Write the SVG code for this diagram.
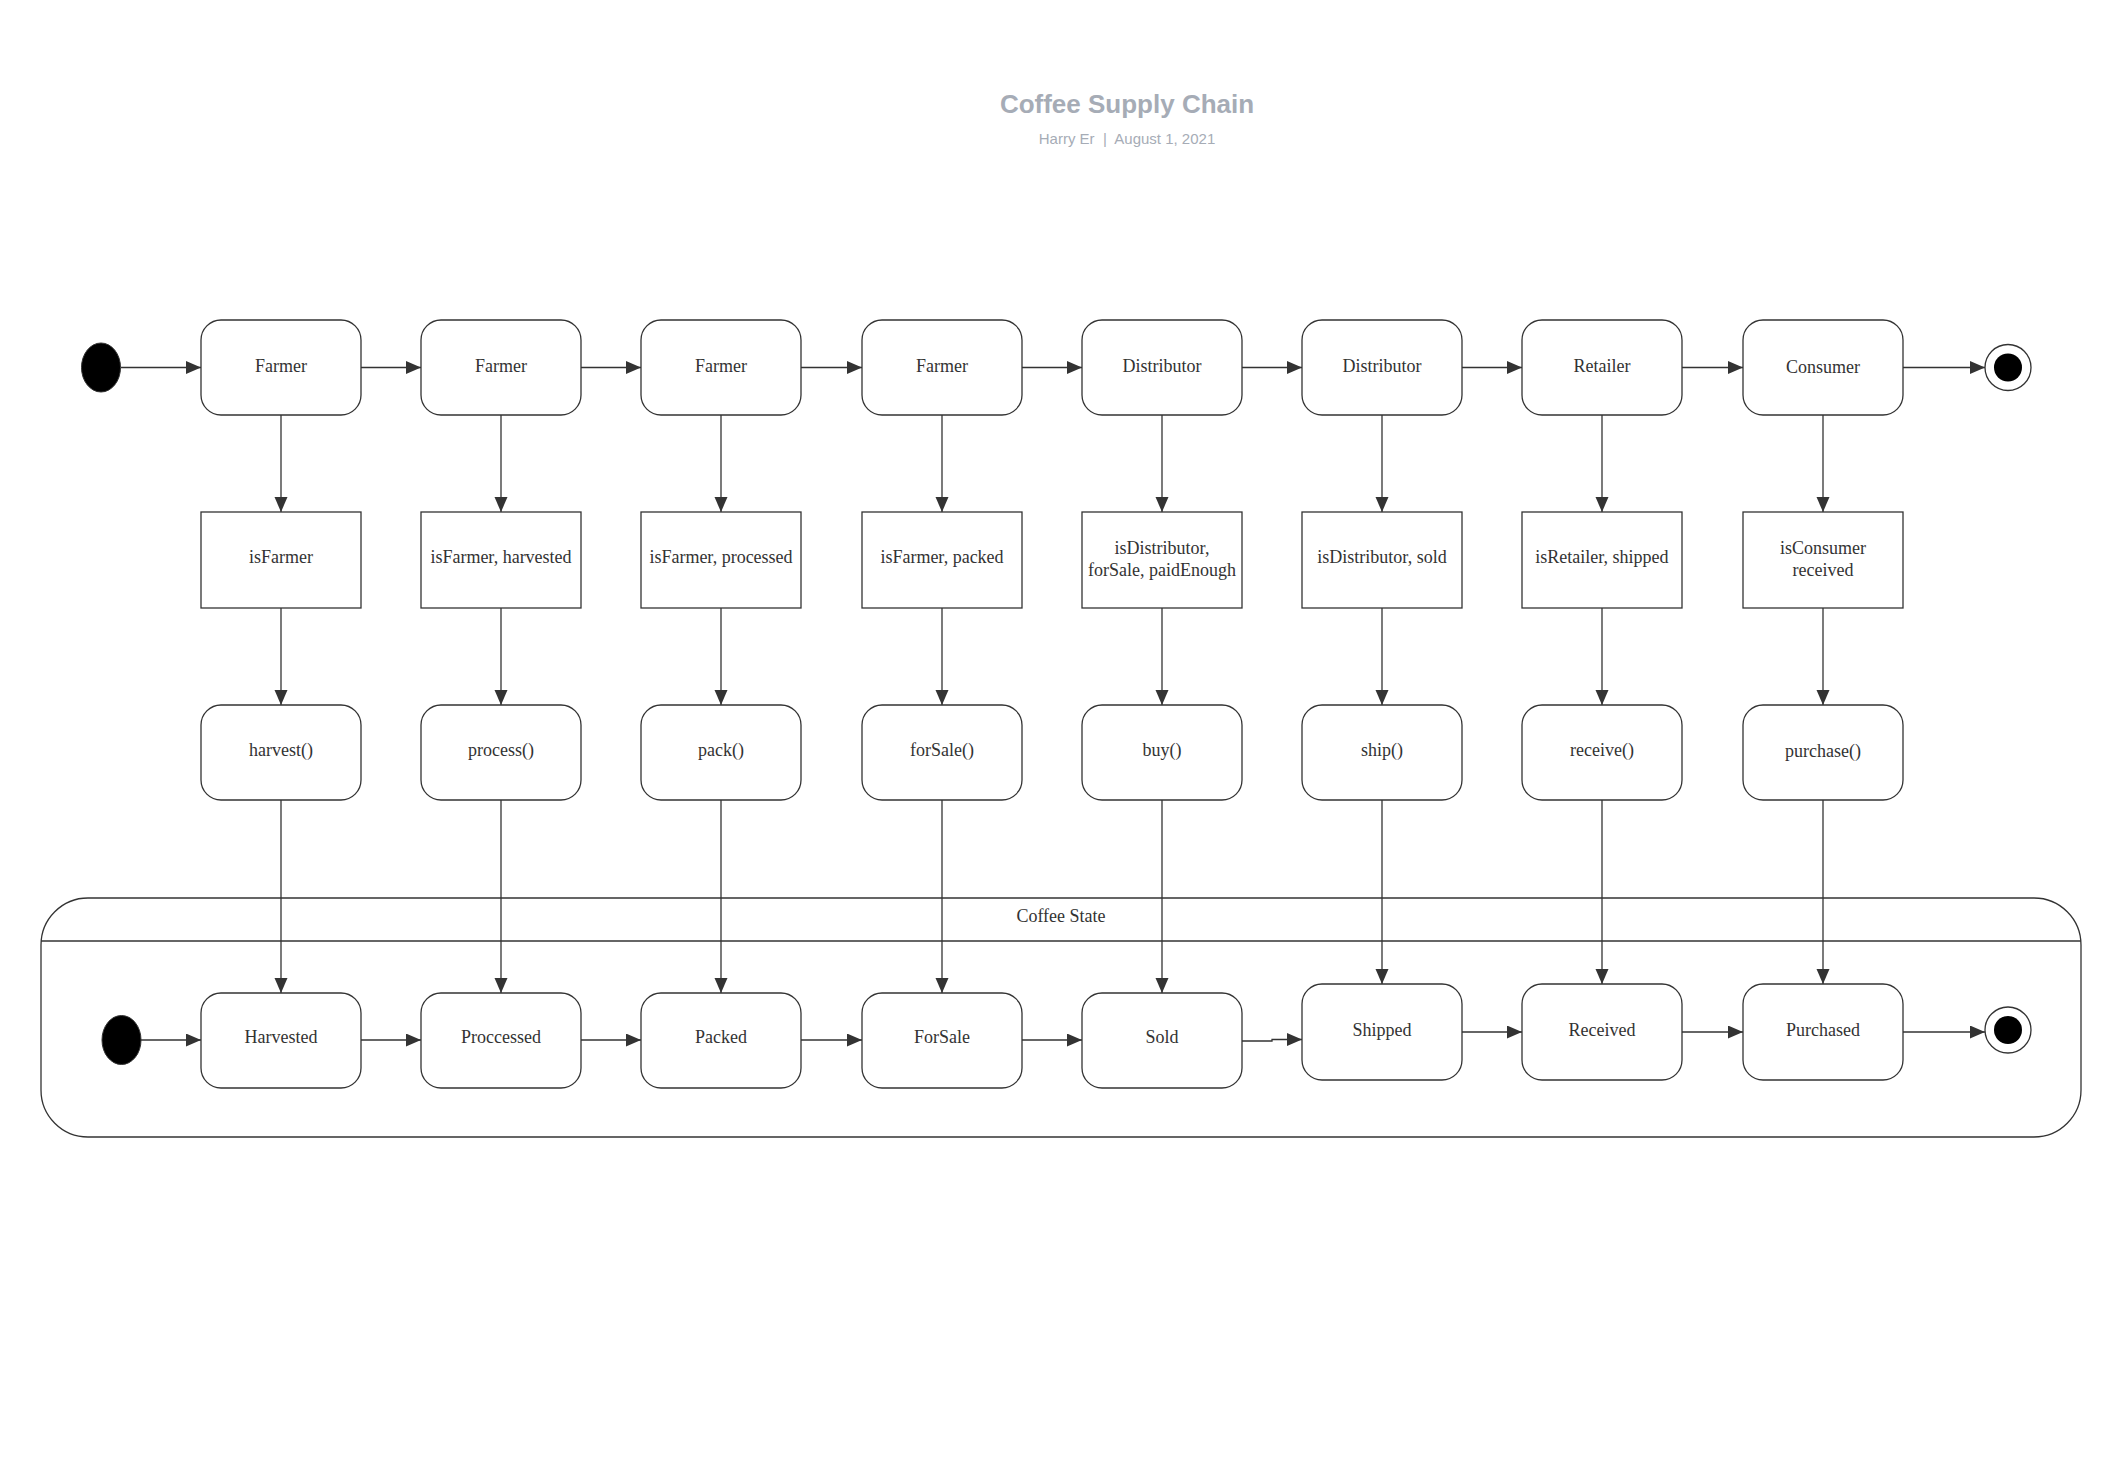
<svg xmlns="http://www.w3.org/2000/svg" width="2126" height="1466" viewBox="0 0 2126 1466">
<style>
.st{fill:#fff;stroke:#333;stroke-width:1.3}
.t{font-family:"Liberation Serif","Times New Roman",serif;font-size:18px;fill:#333;text-anchor:middle;dominant-baseline:central}
.c{fill:none;stroke:#333;stroke-width:1.3}
.ttl{font-family:"Liberation Sans",Arial,sans-serif;text-anchor:middle;fill:#a6acb6}
</style>
<defs>
<marker id="ah" markerUnits="userSpaceOnUse" markerWidth="16" markerHeight="14" refX="15" refY="6.5" orient="auto">
<path d="M0,0 L15,6.5 L0,13 z" fill="#333"/>
</marker>
</defs>
<rect width="2126" height="1466" fill="#fff"/>
<g id="title">
<text class="ttl" x="1127" y="113" font-size="26" font-weight="bold">Coffee Supply Chain</text>
<text class="ttl" x="1127" y="143.5" font-size="15">Harry Er &#160;|&#160; August 1, 2021</text>
</g>
<g id="coffee-state">
<rect class="st" x="41" y="898" width="2040" height="239" rx="47"/>
<line class="c" x1="41" y1="941" x2="2081" y2="941"/>
<text class="t" x="1061" y="916">Coffee State</text>
</g>
<g id="connectors">
<!-- top row -->
<line class="c" x1="121" y1="367.5" x2="201" y2="367.5" marker-end="url(#ah)"/>
<line class="c" x1="361" y1="367.5" x2="421" y2="367.5" marker-end="url(#ah)"/>
<line class="c" x1="581" y1="367.5" x2="641" y2="367.5" marker-end="url(#ah)"/>
<line class="c" x1="801" y1="367.5" x2="862" y2="367.5" marker-end="url(#ah)"/>
<line class="c" x1="1022" y1="367.5" x2="1082" y2="367.5" marker-end="url(#ah)"/>
<line class="c" x1="1242" y1="367.5" x2="1302" y2="367.5" marker-end="url(#ah)"/>
<line class="c" x1="1462" y1="367.5" x2="1522" y2="367.5" marker-end="url(#ah)"/>
<line class="c" x1="1682" y1="367.5" x2="1743" y2="367.5" marker-end="url(#ah)"/>
<line class="c" x1="1903" y1="367.5" x2="1985" y2="367.5" marker-end="url(#ah)"/>
<!-- columns -->
<line class="c" x1="281" y1="415" x2="281" y2="512" marker-end="url(#ah)"/>
<line class="c" x1="281" y1="608" x2="281" y2="705" marker-end="url(#ah)"/>
<line class="c" x1="281" y1="800" x2="281" y2="993" marker-end="url(#ah)"/>
<line class="c" x1="501" y1="415" x2="501" y2="512" marker-end="url(#ah)"/>
<line class="c" x1="501" y1="608" x2="501" y2="705" marker-end="url(#ah)"/>
<line class="c" x1="501" y1="800" x2="501" y2="993" marker-end="url(#ah)"/>
<line class="c" x1="721" y1="415" x2="721" y2="512" marker-end="url(#ah)"/>
<line class="c" x1="721" y1="608" x2="721" y2="705" marker-end="url(#ah)"/>
<line class="c" x1="721" y1="800" x2="721" y2="993" marker-end="url(#ah)"/>
<line class="c" x1="942" y1="415" x2="942" y2="512" marker-end="url(#ah)"/>
<line class="c" x1="942" y1="608" x2="942" y2="705" marker-end="url(#ah)"/>
<line class="c" x1="942" y1="800" x2="942" y2="993" marker-end="url(#ah)"/>
<line class="c" x1="1162" y1="415" x2="1162" y2="512" marker-end="url(#ah)"/>
<line class="c" x1="1162" y1="608" x2="1162" y2="705" marker-end="url(#ah)"/>
<line class="c" x1="1162" y1="800" x2="1162" y2="993" marker-end="url(#ah)"/>
<line class="c" x1="1382" y1="415" x2="1382" y2="512" marker-end="url(#ah)"/>
<line class="c" x1="1382" y1="608" x2="1382" y2="705" marker-end="url(#ah)"/>
<line class="c" x1="1382" y1="800" x2="1382" y2="984" marker-end="url(#ah)"/>
<line class="c" x1="1602" y1="415" x2="1602" y2="512" marker-end="url(#ah)"/>
<line class="c" x1="1602" y1="608" x2="1602" y2="705" marker-end="url(#ah)"/>
<line class="c" x1="1602" y1="800" x2="1602" y2="984" marker-end="url(#ah)"/>
<line class="c" x1="1823" y1="415" x2="1823" y2="512" marker-end="url(#ah)"/>
<line class="c" x1="1823" y1="608" x2="1823" y2="705" marker-end="url(#ah)"/>
<line class="c" x1="1823" y1="800" x2="1823" y2="984" marker-end="url(#ah)"/>
<!-- bottom row -->
<line class="c" x1="141" y1="1040" x2="201" y2="1040" marker-end="url(#ah)"/>
<line class="c" x1="361" y1="1040" x2="421" y2="1040" marker-end="url(#ah)"/>
<line class="c" x1="581" y1="1040" x2="641" y2="1040" marker-end="url(#ah)"/>
<line class="c" x1="801" y1="1040" x2="862" y2="1040" marker-end="url(#ah)"/>
<line class="c" x1="1022" y1="1040" x2="1082" y2="1040" marker-end="url(#ah)"/>
<polyline class="c" points="1242,1041 1272,1041 1272,1039.5 1302,1039.5" marker-end="url(#ah)"/>
<line class="c" x1="1462" y1="1032" x2="1522" y2="1032" marker-end="url(#ah)"/>
<line class="c" x1="1682" y1="1032" x2="1743" y2="1032" marker-end="url(#ah)"/>
<line class="c" x1="1903" y1="1032" x2="1985" y2="1032" marker-end="url(#ah)"/>
</g>
<g id="start"><ellipse cx="101" cy="367.5" rx="19.5" ry="24.5" fill="#000" stroke="#333" stroke-width="1"/></g>
<g id="end"><circle cx="2008" cy="367.5" r="23" fill="#fff" stroke="#333" stroke-width="1.3"/><circle cx="2008" cy="367.5" r="14" fill="#000"/></g>
<g id="actor1"><rect class="st" x="201" y="320" width="160" height="95" rx="20"/><text class="t" x="281" y="365.5">Farmer</text></g>
<g id="actor2"><rect class="st" x="421" y="320" width="160" height="95" rx="20"/><text class="t" x="501" y="365.5">Farmer</text></g>
<g id="actor3"><rect class="st" x="641" y="320" width="160" height="95" rx="20"/><text class="t" x="721" y="365.5">Farmer</text></g>
<g id="actor4"><rect class="st" x="862" y="320" width="160" height="95" rx="20"/><text class="t" x="942" y="365.5">Farmer</text></g>
<g id="actor5"><rect class="st" x="1082" y="320" width="160" height="95" rx="20"/><text class="t" x="1162" y="365.5">Distributor</text></g>
<g id="actor6"><rect class="st" x="1302" y="320" width="160" height="95" rx="20"/><text class="t" x="1382" y="365.5">Distributor</text></g>
<g id="actor7"><rect class="st" x="1522" y="320" width="160" height="95" rx="20"/><text class="t" x="1602" y="365.5">Retailer</text></g>
<g id="actor8"><rect class="st" x="1743" y="320" width="160" height="95" rx="20"/><text class="t" x="1823" y="366.5">Consumer</text></g>
<g id="cond1"><rect class="st" x="201" y="512" width="160" height="96"/><text class="t" x="281" y="557">isFarmer</text></g>
<g id="cond2"><rect class="st" x="421" y="512" width="160" height="96"/><text class="t" x="501" y="557">isFarmer, harvested</text></g>
<g id="cond3"><rect class="st" x="641" y="512" width="160" height="96"/><text class="t" x="721" y="557">isFarmer, processed</text></g>
<g id="cond4"><rect class="st" x="862" y="512" width="160" height="96"/><text class="t" x="942" y="557">isFarmer, packed</text></g>
<g id="cond5"><rect class="st" x="1082" y="512" width="160" height="96"/><text class="t" x="1162" y="548">isDistributor,</text><text class="t" x="1162" y="569.5">forSale, paidEnough</text></g>
<g id="cond6"><rect class="st" x="1302" y="512" width="160" height="96"/><text class="t" x="1382" y="557">isDistributor, sold</text></g>
<g id="cond7"><rect class="st" x="1522" y="512" width="160" height="96"/><text class="t" x="1602" y="557">isRetailer, shipped</text></g>
<g id="cond8"><rect class="st" x="1743" y="512" width="160" height="96"/><text class="t" x="1823" y="548">isConsumer</text><text class="t" x="1823" y="569.5">received</text></g>
<g id="fn1"><rect class="st" x="201" y="705" width="160" height="95" rx="20"/><text class="t" x="281" y="750">harvest()</text></g>
<g id="fn2"><rect class="st" x="421" y="705" width="160" height="95" rx="20"/><text class="t" x="501" y="750">process()</text></g>
<g id="fn3"><rect class="st" x="641" y="705" width="160" height="95" rx="20"/><text class="t" x="721" y="750">pack()</text></g>
<g id="fn4"><rect class="st" x="862" y="705" width="160" height="95" rx="20"/><text class="t" x="942" y="750">forSale()</text></g>
<g id="fn5"><rect class="st" x="1082" y="705" width="160" height="95" rx="20"/><text class="t" x="1162" y="750">buy()</text></g>
<g id="fn6"><rect class="st" x="1302" y="705" width="160" height="95" rx="20"/><text class="t" x="1382" y="750">ship()</text></g>
<g id="fn7"><rect class="st" x="1522" y="705" width="160" height="95" rx="20"/><text class="t" x="1602" y="750">receive()</text></g>
<g id="fn8"><rect class="st" x="1743" y="705" width="160" height="95" rx="20"/><text class="t" x="1823" y="751">purchase()</text></g>
<g id="state-start"><ellipse cx="121.5" cy="1040" rx="19.5" ry="24.5" fill="#000" stroke="#333" stroke-width="1"/></g>
<g id="state1"><rect class="st" x="201" y="993" width="160" height="95" rx="20"/><text class="t" x="281" y="1037">Harvested</text></g>
<g id="state2"><rect class="st" x="421" y="993" width="160" height="95" rx="20"/><text class="t" x="501" y="1037">Proccessed</text></g>
<g id="state3"><rect class="st" x="641" y="993" width="160" height="95" rx="20"/><text class="t" x="721" y="1037">Packed</text></g>
<g id="state4"><rect class="st" x="862" y="993" width="160" height="95" rx="20"/><text class="t" x="942" y="1037">ForSale</text></g>
<g id="state5"><rect class="st" x="1082" y="993" width="160" height="95" rx="20"/><text class="t" x="1162" y="1037">Sold</text></g>
<g id="state6"><rect class="st" x="1302" y="984" width="160" height="96" rx="20"/><text class="t" x="1382" y="1029.5">Shipped</text></g>
<g id="state7"><rect class="st" x="1522" y="984" width="160" height="96" rx="20"/><text class="t" x="1602" y="1029.5">Received</text></g>
<g id="state8"><rect class="st" x="1743" y="984" width="160" height="96" rx="20"/><text class="t" x="1823" y="1029.5">Purchased</text></g>
<g id="state-end"><circle cx="2008" cy="1030" r="23" fill="#fff" stroke="#333" stroke-width="1.3"/><circle cx="2008" cy="1030" r="14" fill="#000"/></g>
</svg>
